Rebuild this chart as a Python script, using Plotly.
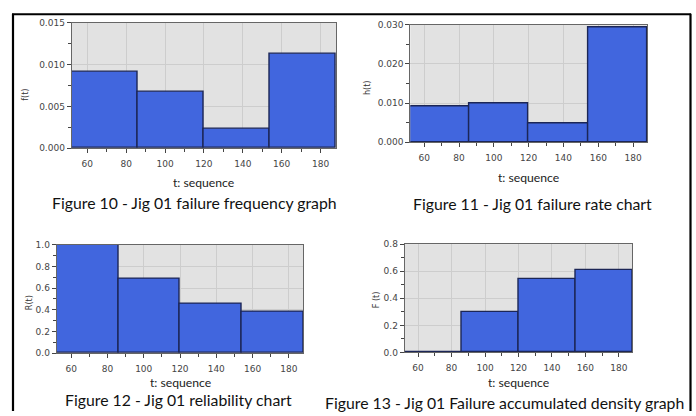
import plotly.graph_objects as go

# Interval edges of the time sequence (4 classes, width 34)
t_edges = [52, 86, 120, 154, 188]

# Reliability measures for Jig 01 per interval
f_t = [0.0091, 0.0068, 0.0023, 0.0113]   # failure frequency
h_t = [0.0090, 0.0099, 0.0049, 0.0293]   # failure rate
R_t = [1.00, 0.69, 0.46, 0.38]           # reliability
F_t = [0.00, 0.30, 0.54, 0.61]           # accumulated failure density

x_ticks = [60, 80, 100, 120, 140, 160, 180]

captions = [
    "Figure 10 - Jig 01 failure frequency graph",
    "Figure 11 - Jig 01 failure rate chart",
    "Figure 12 - Jig 01 reliability chart",
    "Figure 13 - Jig 01 Failure accumulated density graph",
]
y_titles = ["f(t)", "h(t)", "R(t)", "F (t)"]
x_title = "t: sequence"

W, H = 696, 416

def px_x(x):
    return x / W

def px_y(y):
    return 1 - y / H

centers = [(a + b) / 2 for a, b in zip(t_edges[:-1], t_edges[1:])]
widths = [b - a for a, b in zip(t_edges[:-1], t_edges[1:])]

# panel layout: plot-area pixel box, y range, y major/minor step, tick format
panels = [
    dict(box=(71.7, 336.1, 18.3, 146.7), vals=f_t, yr=[0, 0.015], dy=0.005, my=0.0025, fmt=".3f",
         cap=(194.5, 202.5), xt=(204, 181.5), yt=(26, 92)),
    dict(box=(410.3, 647.0, 20.0, 140.7), vals=h_t, yr=[0, 0.030], dy=0.010, my=0.005, fmt=".3f",
         cap=(532, 203.5), xt=(528.5, 176.5), yt=(368, 85)),
    dict(box=(56.7, 303.3, 245.7, 356.7), vals=R_t, yr=[0, 1.0], dy=0.2, my=0.1, fmt=".1f",
         cap=(178.5, 404), xt=(180, 386.5), yt=(29.5, 305)),
    dict(box=(404.7, 632.3, 245.0, 356.0), vals=F_t, yr=[0, 0.8], dy=0.2, my=0.1, fmt=".1f",
         cap=(504, 407), xt=(518.5, 386.5), yt=(376.5, 302)),
]

fig = go.Figure()
tick_font = dict(family="DejaVu Sans", size=9, color="#454545")
annotations = []

for i, p in enumerate(panels, start=1):
    sfx = "" if i == 1 else str(i)
    x0, x1, y0, y1 = p["box"]
    fig.add_trace(go.Bar(
        x=centers, y=p["vals"], width=widths,
        marker=dict(color="#4166de", line=dict(color="#1c2656", width=1.4)),
        xaxis="x" + sfx, yaxis="y" + sfx, showlegend=False,
    ))
    fig.layout["xaxis" + sfx] = dict(
        domain=[px_x(x0), px_x(x1)], anchor="y" + sfx,
        range=[t_edges[0], t_edges[-1]],
        tickvals=x_ticks, ticks="outside", ticklen=4, tickcolor="#444",
        minor=dict(dtick=10, tick0=0, ticks="outside", ticklen=3, tickcolor="#444", showgrid=False),
        showgrid=True, gridcolor="#cdcdcd", gridwidth=1,
        showline=True, linecolor="#666", linewidth=1, mirror=True,
        tickfont=tick_font, ticklabelstandoff=3, zeroline=False,
    )
    fig.layout["yaxis" + sfx] = dict(
        domain=[px_y(y1), px_y(y0)], anchor="x" + sfx,
        range=p["yr"], dtick=p["dy"], tick0=0, tickformat=p["fmt"],
        ticks="outside", ticklen=4, tickcolor="#444",
        minor=dict(dtick=p["my"], tick0=0, ticks="outside", ticklen=3, tickcolor="#444", showgrid=False),
        showgrid=True, gridcolor="#cdcdcd", gridwidth=1,
        showline=True, linecolor="#666", linewidth=1, mirror=True,
        tickfont=tick_font, zeroline=False,
    )
    cx, cy = p["cap"]
    annotations.append(dict(
        text=captions[i - 1], x=px_x(cx), y=px_y(cy), xref="paper", yref="paper",
        xanchor="center", yanchor="middle", showarrow=False, borderpad=0,
        font=dict(family="Lato", size=15.8, color="#111"),
    ))
    tx, ty = p["xt"]
    annotations.append(dict(
        text=x_title, x=px_x(tx), y=px_y(ty), xref="paper", yref="paper",
        xanchor="center", yanchor="middle", showarrow=False, borderpad=0,
        font=dict(family="Lato", size=12.2, color="#222"),
    ))
    ax, ay = p["yt"]
    annotations.append(dict(
        text=y_titles[i - 1], x=px_x(ax), y=px_y(ay), xref="paper", yref="paper",
        xanchor="center", yanchor="middle", showarrow=False, textangle=-90,
        font=dict(family="DejaVu Sans", size=8, color="#333"),
    ))

# black frame around the figure group (open at the bottom)
frame = dict(type="line", xref="paper", yref="paper", line=dict(color="#000", width=2.2))
shapes = [
    dict(frame, x0=px_x(13), x1=px_x(13), y0=px_y(9), y1=0),
    dict(frame, x0=px_x(12), x1=px_x(691), y0=px_y(9.5), y1=px_y(9.5)),
    dict(frame, x0=px_x(690.5), x1=px_x(690.5), y0=px_y(9), y1=0),
]

fig.update_layout(
    width=W, height=H, margin=dict(l=0, r=0, t=0, b=0),
    paper_bgcolor="white", plot_bgcolor="#e2e2e2",
    bargap=0, annotations=annotations, shapes=shapes,
)

fig.write_html("out.html")
